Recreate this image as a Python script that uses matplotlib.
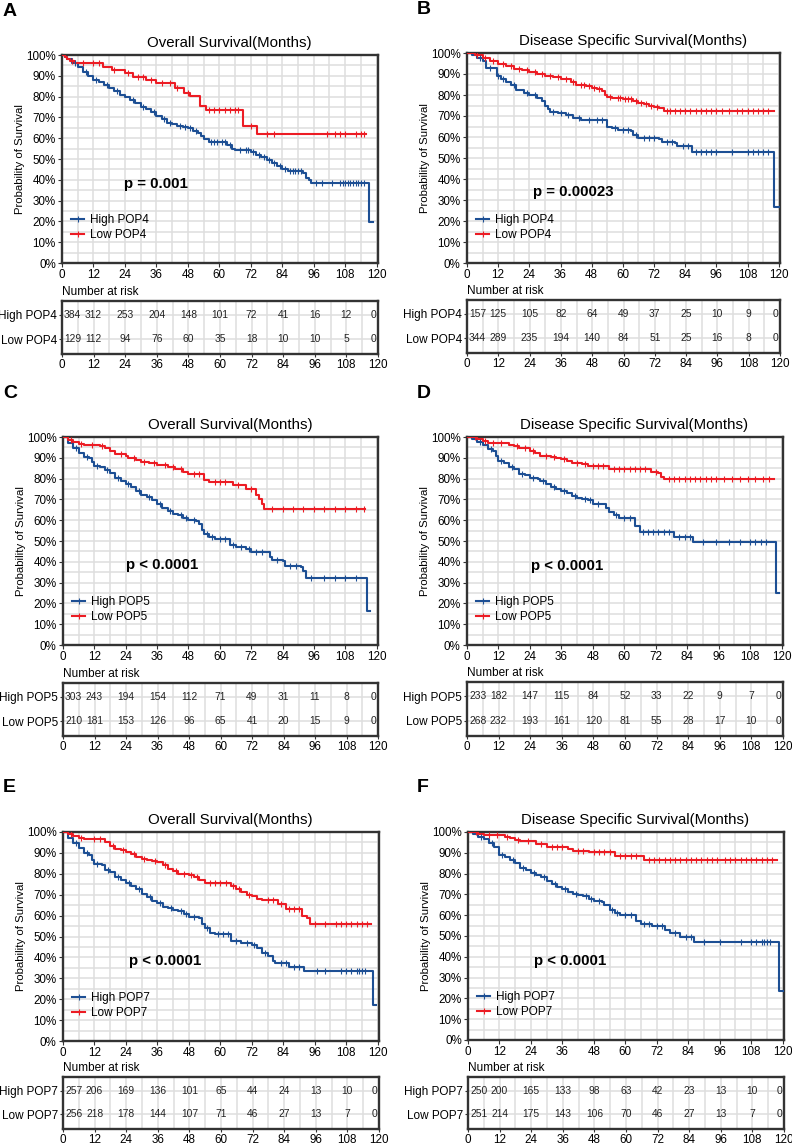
import numpy as np
import matplotlib
matplotlib.use("Agg")
import matplotlib.pyplot as plt
from matplotlib.lines import Line2D

plt.rcParams['font.family'] = ['Liberation Sans', 'DejaVu Sans']

W, H = 792, 1145

# ---- data (months, survival %) ----
# A: POP4 overall survival
a_high_t = [0, 1, 2, 4, 6, 8, 10, 12, 14, 16, 18, 20, 22, 24, 26, 28, 30, 32, 34, 36, 38, 40, 42, 44, 46, 48,
            50, 52, 53, 54, 56, 63, 65, 66, 72, 74, 76, 78, 80, 82, 84, 86, 92, 93, 94, 95, 117, 118.5]
a_high_s = [100, 99, 98, 96, 94, 92, 90, 88, 87, 85.5, 84, 82.5, 81, 80, 78.5, 77, 75, 74, 72.5, 70.5, 69, 67.5, 67, 66, 65.5, 65,
            63.5, 62.5, 61, 59.5, 58, 56.5, 55, 54.5, 53.5, 52, 51, 49.5, 48, 46.5, 45, 44, 43.5, 41, 40, 38.7, 19.5, 19.5]
a_low_t = [0, 1, 2, 3, 5, 15.5, 19, 24, 27, 32, 36, 43, 46.5, 49, 52.6, 55, 69, 74.4, 116]
a_low_s = [100, 99, 98, 97, 96, 94.4, 92.8, 91.2, 89.6, 88, 86.4, 83.9, 81.6, 80.5, 75.5, 73.6, 65.9, 62, 62]
a_high_cens = [5, 9, 13, 17, 21, 27, 31, 35, 39, 41, 45, 47, 49, 51, 57, 58, 59, 61, 62, 64, 68, 70, 71, 73, 75,
               77, 79, 81, 83, 85, 87, 88, 89, 90, 91, 97, 99, 103, 106, 107, 108, 109, 110, 111, 112, 113, 114, 115]
a_low_cens = [4, 8, 12, 14, 20, 25, 29, 31, 34, 38, 41, 44, 48, 56, 58, 60, 62, 64, 66, 67, 72, 78, 81,
              101, 104, 106, 108, 112, 114, 115]

# B: POP4 disease specific survival
b_high_t = [0, 2, 4, 6, 7.5, 11.5, 13, 15, 17, 19, 22, 24, 27, 29, 30, 31, 32, 35, 38, 41, 44, 54, 56, 58, 63, 64,
            66, 74, 75, 80, 81, 86.5, 118, 120]
b_high_s = [100, 99, 97.5, 96, 93, 89, 87.5, 86, 85, 82.5, 81, 80, 78.5, 77, 75, 73.5, 72, 71.5, 70.5, 69, 68, 65, 64.5, 63.5, 63, 61,
            59.5, 59, 57.5, 57, 55.5, 53, 26.5, 26.5]
b_low_t = [0, 3, 6, 9, 12, 15, 18, 21, 24, 27, 30, 33, 36, 40, 42, 46, 48, 50, 52, 53, 54, 56, 60, 64, 66, 68,
           70, 72, 74, 76, 118]
b_low_s = [100, 99, 97.5, 96, 95, 94, 92.5, 92, 91, 90, 89, 88.5, 87.5, 86, 85, 84.5, 83.5, 83, 82, 80, 79, 78.5, 78, 77, 76, 75.5,
           75, 74.5, 74, 72.5, 72.5]
b_high_cens = [5, 9, 12, 14, 18, 23, 26, 33, 36, 39, 43, 47, 50, 52, 57, 60, 62, 65, 68, 70, 72, 77, 79, 83, 85,
               88, 90, 92, 94, 96, 102, 108, 110, 112, 114, 116]
b_low_cens = [4, 7, 10, 14, 17, 20, 23, 26, 29, 32, 35, 38, 41, 44, 45, 47, 49, 51, 55, 58, 59, 61, 62, 63, 65,
              67, 69, 71, 73, 77, 78, 80, 82, 84, 86, 88, 90, 92, 94, 96, 98, 101, 104, 106, 108, 110, 112, 114, 116]

# C: POP5 overall survival
c_high_t = [0, 2, 4, 6, 8, 10, 11, 12, 14, 16, 18, 20, 22, 24, 26, 28, 30, 32, 34, 36, 38, 40, 42, 44, 46, 48,
            51, 52, 53, 54, 56, 58, 64, 66, 70, 72, 79, 80, 84, 85, 91, 92, 93, 116.2, 117.5]
c_high_s = [100, 97, 94.5, 92.5, 90.5, 90, 88, 86, 85.5, 84, 82.5, 80.5, 79, 77.5, 76, 74, 72, 71, 69.5, 68, 66, 64.5, 63, 62.5, 61, 60,
            59.5, 58, 55.5, 53.5, 52, 51, 48, 47, 46, 44.5, 42.5, 41, 40.5, 38, 37.5, 35.5, 32, 16.2, 16.2]
c_low_t = [0, 2, 4, 6, 8, 14, 16, 18, 20, 24, 25, 28, 30, 33, 36, 40, 43, 46, 48, 54, 56, 65, 70, 74, 75, 76,
           77, 115.5]
c_low_s = [100, 98.5, 97.5, 96.5, 96, 95.5, 94.5, 93.5, 92, 91, 90, 89, 88, 87.5, 86.5, 85.5, 84.5, 83, 82, 79.5, 78.5, 77, 75, 72, 70, 68,
           65.2, 65.2]
c_high_cens = [5, 9, 13, 17, 21, 25, 29, 33, 37, 41, 45, 47, 50, 55, 57, 60, 62, 65, 68, 71, 74, 76, 82, 87,
               89, 95, 100, 104, 108, 112]
c_low_cens = [3, 7, 11, 15, 22, 27, 31, 35, 39, 42, 45, 50, 52, 58, 60, 62, 67, 72, 80, 84, 88, 92, 96, 100,
              104, 108, 112, 115]

# D: POP5 disease specific survival
d_high_t = [0, 2, 4, 6, 8, 10, 11, 12, 14, 16, 18, 20, 22, 24, 27, 28, 30, 32, 34, 36, 38, 40, 42, 44, 46, 48,
            53, 54, 56, 58, 64, 66, 79, 86, 117.8, 119]
d_high_s = [100, 99, 97.5, 96, 94, 93.5, 91, 88.5, 87.5, 85.5, 84.5, 82, 81.5, 80.5, 80, 79, 77.5, 76, 75, 74, 73, 71.5, 70.5, 70, 69.5, 68,
            66, 64, 62.5, 61, 57, 54.5, 52, 49.5, 24.8, 24.8]
d_low_t = [0, 4, 6, 8, 16, 18, 20, 24, 26, 28, 32, 34, 36, 38, 40, 44, 46, 54, 70, 73, 74, 75, 117]
d_low_s = [100, 99, 98, 97, 96, 95.5, 94.5, 93.5, 92.5, 91, 90.5, 90, 89.5, 88.5, 87.5, 87, 86, 84.5, 83, 82.5, 81, 79.8, 79.8]
d_high_cens = [5, 9, 13, 17, 21, 25, 29, 33, 37, 41, 45, 47, 50, 57, 60, 62, 67, 69, 71, 73, 75, 77, 81, 83,
               85, 90, 95, 100, 104, 108, 110, 112, 114]
d_low_cens = [3, 7, 10, 13, 19, 22, 25, 30, 33, 37, 42, 45, 48, 50, 52, 56, 58, 60, 62, 64, 66, 68, 72, 77, 79, 81,
              83, 85, 87, 89, 91, 93, 95, 98, 101, 104, 107, 110, 113, 115]

# E: POP7 overall survival
e_high_t = [0, 2, 4, 6, 8, 10, 11, 12, 15, 16, 18, 20, 22, 24, 26, 28, 30, 32, 34, 36, 38, 40, 42, 44, 46, 48,
            52, 53, 54, 56, 58, 64, 68, 72, 74, 76, 78, 80, 81, 86, 92, 118.3, 119.5]
e_high_s = [100, 97, 94.5, 92.5, 90, 89, 86.5, 84.5, 84, 82, 81, 78.5, 77, 75.5, 74, 72.5, 70.5, 69, 67, 66, 64, 63.5, 62.5, 62, 61, 59.5,
            59, 56, 54, 51.5, 51, 48, 47, 46, 44.5, 42, 40.5, 38.5, 37.5, 35.5, 33.5, 17, 17]
e_low_t = [0, 2, 4, 6, 8, 16, 18, 20, 22, 24, 26, 28, 30, 32, 34, 36, 38, 40, 42, 44, 48, 50, 52, 54, 64, 66,
           68, 70, 72, 74, 76, 82, 85, 91, 93, 94, 117.4]
e_low_s = [100, 99, 98, 97, 96.5, 95, 93.5, 92, 91.5, 90.5, 89.5, 88, 87, 86.5, 86, 85.5, 84, 82.5, 81.5, 80, 79.5, 78.5, 77, 75.5, 74, 72.5,
           71.5, 70, 69.5, 68, 67.5, 65.5, 63, 60, 59, 56, 56]
e_high_cens = [5, 9, 13, 17, 21, 25, 29, 33, 37, 41, 45, 47, 50, 55, 59, 61, 63, 66, 70, 73, 77, 83, 85, 88,
               90, 97, 100, 106, 108, 110, 112, 113, 114, 115]
e_low_cens = [3, 7, 12, 14, 19, 23, 27, 31, 35, 39, 43, 46, 49, 51, 56, 58, 60, 62, 65, 67, 71, 78, 80, 83, 86,
              88, 90, 96, 100, 104, 106, 108, 110, 112, 114, 116]

# F: POP7 disease specific survival
f_high_t = [0, 2, 4, 6, 8, 10, 12, 14, 16, 18, 20, 22, 24, 26, 28, 30, 32, 34, 36, 38, 40, 42, 44, 46, 48, 51,
            52, 54, 56, 58, 64, 66, 70, 75, 77, 81, 86, 118.5, 120]
f_high_s = [100, 99, 97.5, 96.5, 94.5, 93, 89, 88, 86.5, 85, 82.5, 81.5, 80.5, 79.5, 78.5, 76.5, 75, 73.5, 72.5, 71, 70, 69.5, 69, 68, 67, 66.5,
            65, 62.5, 61, 60, 57, 56, 55, 53, 51.5, 49.5, 47.3, 23.7, 23.7]
f_low_t = [0, 4, 6, 14, 16, 18, 20, 26, 30, 38, 40, 46, 56, 67, 118]
f_low_s = [100, 99, 98.5, 97.5, 97, 96, 95.5, 94, 93, 92, 91, 90.5, 88.5, 86.7, 86.7]
f_high_cens = [5, 9, 13, 17, 21, 25, 29, 33, 37, 41, 45, 47, 50, 55, 57, 60, 62, 67, 69, 72, 74, 79, 83, 85,
               90, 96, 104, 108, 110, 112, 113, 114, 115]
f_low_cens = [3, 8, 11, 15, 19, 23, 28, 32, 34, 36, 42, 44, 48, 50, 52, 54, 58, 60, 62, 64, 69, 71, 73, 75, 77,
              79, 81, 83, 85, 87, 89, 91, 93, 95, 98, 100, 102, 104, 106, 108, 110, 112, 114, 116]

# number at risk at 0,12,...,120
risk_times = [0, 12, 24, 36, 48, 60, 72, 84, 96, 108, 120]
a_risk_high = [384, 312, 253, 204, 148, 101, 72, 41, 16, 12, 0]
a_risk_low = [129, 112, 94, 76, 60, 35, 18, 10, 10, 5, 0]
b_risk_high = [157, 125, 105, 82, 64, 49, 37, 25, 10, 9, 0]
b_risk_low = [344, 289, 235, 194, 140, 84, 51, 25, 16, 8, 0]
c_risk_high = [303, 243, 194, 154, 112, 71, 49, 31, 11, 8, 0]
c_risk_low = [210, 181, 153, 126, 96, 65, 41, 20, 15, 9, 0]
d_risk_high = [233, 182, 147, 115, 84, 52, 33, 22, 9, 7, 0]
d_risk_low = [268, 232, 193, 161, 120, 81, 55, 28, 17, 10, 0]
e_risk_high = [257, 206, 169, 136, 101, 65, 44, 24, 13, 10, 0]
e_risk_low = [256, 218, 178, 144, 107, 71, 46, 27, 13, 7, 0]
f_risk_high = [250, 200, 165, 133, 98, 63, 42, 23, 13, 10, 0]
f_risk_low = [251, 214, 175, 143, 106, 70, 46, 27, 13, 7, 0]

BLUE = '#1d4f94'
RED = '#ec1c24'
FRAME = '#333333'
GRIDC = '#dedede'

fig = plt.figure(figsize=(W / 100, H / 100), dpi=100)


def px_axes(x0, y0, x1, y1):
    return fig.add_axes([x0 / W, 1 - y1 / H, (x1 - x0) / W, (y1 - y0) / H])


def step_val(t, s, x):
    i = np.searchsorted(t, x, side='right') - 1
    return np.asarray(s)[i]


def km_panel(letter, title, gene, box, tbox, curves, risks, pval, ptxt_pos):
    ax = px_axes(*box)
    ax.set_xlim(0, 120.5)
    ax.set_ylim(0, 100)
    ax.set_xticks(range(0, 121, 12))
    ax.set_xticks(range(0, 121, 6), minor=True)
    ax.set_yticks(range(0, 101, 10))
    ax.set_yticks(range(0, 101, 5), minor=True)
    ax.set_yticklabels([f"{v}%" for v in range(0, 101, 10)])
    ax.grid(True, which='both', color=GRIDC, lw=1.1)
    ax.set_axisbelow(True)
    ax.tick_params(which='major', direction='out', length=3, width=0.8, color=FRAME,
                   labelsize=8.4, pad=1.5)
    ax.tick_params(which='minor', length=0)
    for sp in ax.spines.values():
        sp.set_color(FRAME)
        sp.set_linewidth(1.7)

    for (t, s, cens, col) in curves:
        ax.step(t, s, where='post', color=col, lw=1.5, zorder=3)
        cy = step_val(np.array(t), s, np.array(cens))
        ax.plot(cens, cy, ls='none', marker='|', ms=3.8, mew=0.8, color=col, zorder=4)

    ax.text(ptxt_pos[0], ptxt_pos[1], pval, fontsize=10.8, fontweight='bold',
            ha='center', va='center')

    handles = [Line2D([], [], color=BLUE, lw=1.5, marker='|', ms=3.8, mew=0.8),
               Line2D([], [], color=RED, lw=1.5, marker='|', ms=3.8, mew=0.8)]
    ax.legend(handles, [f"High {gene}", f"Low {gene}"], loc='lower left',
              bbox_to_anchor=(0.0, 0.06), frameon=False, fontsize=8.5,
              handlelength=1.1, handletextpad=0.5, labelspacing=0.25, borderpad=0.3)

    x0, y0, x1, y1 = box
    fig.text((x0 + x1) / 2 / W + 0.012, 1 - (y0 - 12) / H, title, fontsize=10.8,
             ha='center', va='center')
    fig.text((x0 - 42) / W, 1 - (y0 + y1) / 2 / H, 'Probability of Survival',
             rotation=90, fontsize=8.2, ha='center', va='center')
    lx = 3 if x0 < 300 else 417
    fig.text(lx / W, 1 - (y0 - 44) / H, letter, fontsize=14, fontweight='bold',
             ha='left', va='center')

    # risk table
    tx = px_axes(*tbox)
    tx.set_xlim(0, 120)
    tx.set_ylim(0, 1)
    tx.set_xticks(range(0, 121, 12))
    tx.set_xticks(range(0, 121, 6), minor=True)
    rows = [0.74, 0.28]
    tx.set_yticks(rows)
    tx.set_yticklabels([f"High {gene}", f"Low {gene}"])
    tx.grid(True, which='both', color=GRIDC, lw=1.1)
    tx.set_axisbelow(True)
    tx.tick_params(which='major', direction='out', length=2.5, width=0.8, color=FRAME,
                   labelsize=8.4, pad=1.0)
    tx.tick_params(axis='y', labelsize=8.5)
    tx.tick_params(which='minor', length=0)
    for sp in tx.spines.values():
        sp.set_color(FRAME)
        sp.set_linewidth(1.7)
    for yr, vals in zip(rows, risks):
        for tm, v in zip(risk_times, vals):
            ha = 'center'
            xx = tm
            if tm == 0:
                ha, xx = 'left', 0.8
            elif tm == 120:
                ha, xx = 'right', 119.5
            tx.text(xx, yr, str(v), fontsize=7.4, ha=ha, va='center', color='#222222')
    tx0, ty0, tx1, ty1 = tbox
    fig.text(tx0 / W, 1 - (ty0 - 9) / H, 'Number at risk', fontsize=8.5,
             ha='left', va='center')


OS = 'Overall Survival(Months)'
DSS = 'Disease Specific Survival(Months)'

km_panel('A', OS, 'POP4', (62, 55, 378, 263), (62, 301, 378, 354),
         [(a_high_t, a_high_s, a_high_cens, BLUE), (a_low_t, a_low_s, a_low_cens, RED)],
         [a_risk_high, a_risk_low], 'p = 0.001', (36, 38))
km_panel('B', DSS, 'POP4', (467, 53, 780, 263), (467, 300, 780, 353),
         [(b_high_t, b_high_s, b_high_cens, BLUE), (b_low_t, b_low_s, b_low_cens, RED)],
         [b_risk_high, b_risk_low], 'p = 0.00023', (41, 33.7))
km_panel('C', OS, 'POP5', (63, 437, 378, 645), (63, 683, 378, 736),
         [(c_high_t, c_high_s, c_high_cens, BLUE), (c_low_t, c_low_s, c_low_cens, RED)],
         [c_risk_high, c_risk_low], 'p < 0.0001', (38, 38.6))
km_panel('D', DSS, 'POP5', (467, 437, 783, 645), (467, 682, 783, 736),
         [(d_high_t, d_high_s, d_high_cens, BLUE), (d_low_t, d_low_s, d_low_cens, RED)],
         [d_risk_high, d_risk_low], 'p < 0.0001', (38, 38.1))
km_panel('E', OS, 'POP7', (63, 832, 379, 1041), (63, 1077, 379, 1129),
         [(e_high_t, e_high_s, e_high_cens, BLUE), (e_low_t, e_low_s, e_low_cens, RED)],
         [e_risk_high, e_risk_low], 'p < 0.0001', (39, 38.4))
km_panel('F', DSS, 'POP7', (468, 832, 784, 1040), (468, 1077, 784, 1129),
         [(f_high_t, f_high_s, f_high_cens, BLUE), (f_low_t, f_low_s, f_low_cens, RED)],
         [f_risk_high, f_risk_low], 'p < 0.0001', (39, 38.1))

fig.savefig('out.png', dpi=100)
